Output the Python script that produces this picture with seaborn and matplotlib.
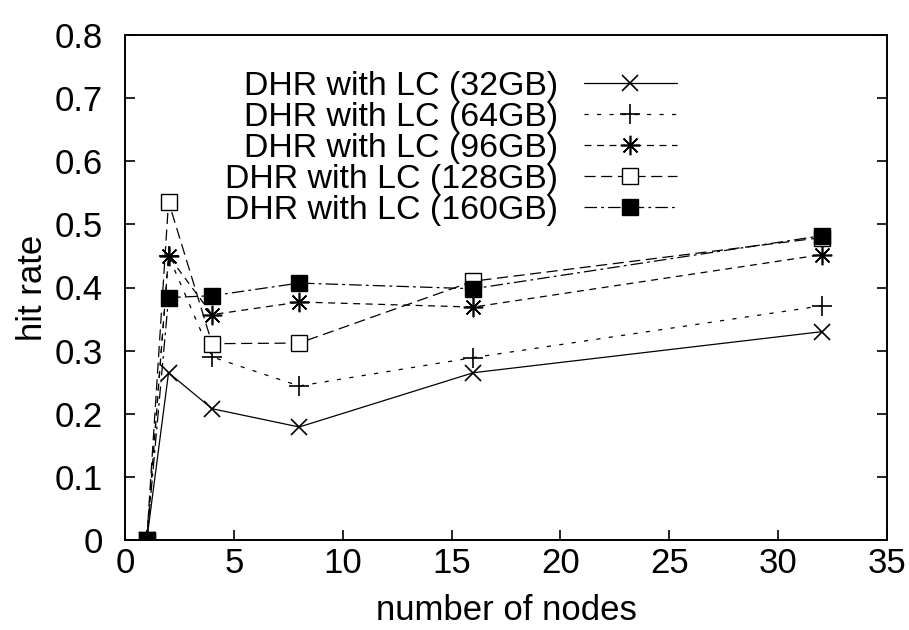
import numpy as np
import pandas as pd
import matplotlib
matplotlib.use("Agg")
import matplotlib.pyplot as plt
import seaborn as sns

sns.set_theme(style="ticks")
plt.rcParams['font.family'] = ['Liberation Sans', 'DejaVu Sans']
plt.rcParams['lines.scale_dashes'] = False
plt.rcParams['text.color'] = 'black'
plt.rcParams['axes.labelcolor'] = 'black'

# data
nodes = [1, 2, 4, 8, 16, 32]
hit_32gb = [0.0, 0.265, 0.208, 0.179, 0.265, 0.330]
hit_64gb = [0.0, 0.450, 0.290, 0.244, 0.289, 0.371]
hit_96gb = [0.0, 0.450, 0.357, 0.377, 0.369, 0.452]
hit_128gb = [0.0, 0.536, 0.311, 0.312, 0.410, 0.479]
hit_160gb = [0.0, 0.384, 0.387, 0.407, 0.398, 0.482]
labels = ["DHR with LC (32GB)", "DHR with LC (64GB)", "DHR with LC (96GB)",
          "DHR with LC (128GB)", "DHR with LC (160GB)"]

series = [hit_32gb, hit_64gb, hit_96gb, hit_128gb, hit_160gb]
styles = [
    dict(marker="x", linestyle="-", ms=12, mew=1.2),
    dict(marker="+", linestyle=(0, (3, 6)), ms=14, mew=1.2),
    dict(marker=(8, 2, 0), linestyle=(0, (5, 4)), ms=14, mew=1.2),
    dict(marker="s", linestyle=(0, (8, 4)), ms=12, mew=1.0, mfc="white"),
    dict(marker="s", linestyle=(0, (9, 3, 2, 3)), ms=12, mew=1.0, mfc="black"),
]

fig, ax = plt.subplots(figsize=(9.09, 6.3), dpi=100)
fig.subplots_adjust(left=125/909, right=887/909, top=1-35/630, bottom=1-540/630)

for vals, lab, st in zip(series, labels, styles):
    df = pd.DataFrame({"nodes": nodes, "hit": vals})
    sns.lineplot(data=df, x="nodes", y="hit", ax=ax, color="black", lw=0.9,
                 mec="black", label=lab, **st)

ax.set_xlim(0, 35)
ax.set_ylim(0, 0.8)
ax.set_xticks(np.arange(0, 36, 5))
ax.set_yticks(np.arange(0, 0.81, 0.1))
ax.set_yticklabels(["0", "0.1", "0.2", "0.3", "0.4", "0.5", "0.6", "0.7", "0.8"])
ax.tick_params(axis="both", direction="in", length=7, width=1.2, labelsize=25,
               colors="black")
ax.tick_params(axis="x", pad=5)
ax.tick_params(axis="y", pad=16, right=True)
for s in ax.spines.values():
    s.set_linewidth(1.4)
    s.set_color("black")

ax.set_xlabel("number of nodes", fontsize=25, labelpad=10)
ax.set_ylabel("hit rate", fontsize=25, labelpad=4)

ax.legend(loc="upper right", bbox_to_anchor=(677/909, 1-71/630),
          bbox_transform=fig.transFigure, frameon=False, markerfirst=False,
          fontsize=24.4, handlelength=2.75, handletextpad=0.75, labelspacing=0.0,
          borderpad=0, borderaxespad=0, numpoints=1)

fig.savefig("out.png", dpi=100)
